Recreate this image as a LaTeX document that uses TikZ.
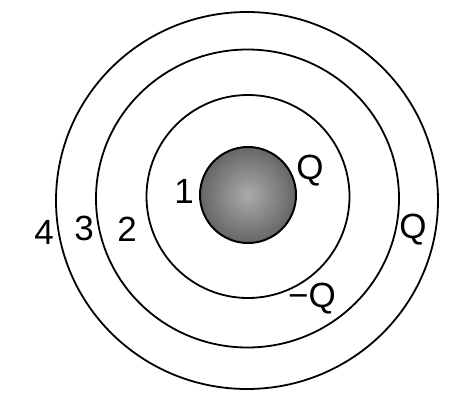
\documentclass[tikz,border=0pt]{standalone}
\usepackage{fontspec}
\setmainfont{Liberation Sans}
\begin{document}
\begin{tikzpicture}[x=1pt,y=-1pt,
  ring/.style={draw=black,line width=1.8pt},
  lbl/.style={font=\fontsize{35}{35}\selectfont,inner sep=0pt}]
\useasboundingbox (0,0) rectangle (474,410);
\shade[inner color=black!33,outer color=black!60] (248,195) circle[radius=48];
\draw[ring,line width=2pt] (248,195) circle[radius=48];
\draw[ring] (248,196.5) circle[radius=101.5];
\draw[ring] (247.5,198.5) circle[x radius=151.5,y radius=149];
\draw[ring] (247,200.5) circle[x radius=191,y radius=188.5];
\node[lbl] (n1) at (184,191) {1};
\node[lbl] (nQ1) at (310,171) {Q};
\node[lbl] (n4) at (44,232) {4};
\node[lbl] (n3) at (84,228) {3};
\node[lbl] (n2) at (127,229) {2};
\node[lbl] (nQ2) at (413,230) {Q};
\node[lbl] (nmQ) at (312,299) {−Q};
\end{tikzpicture}
\end{document}
